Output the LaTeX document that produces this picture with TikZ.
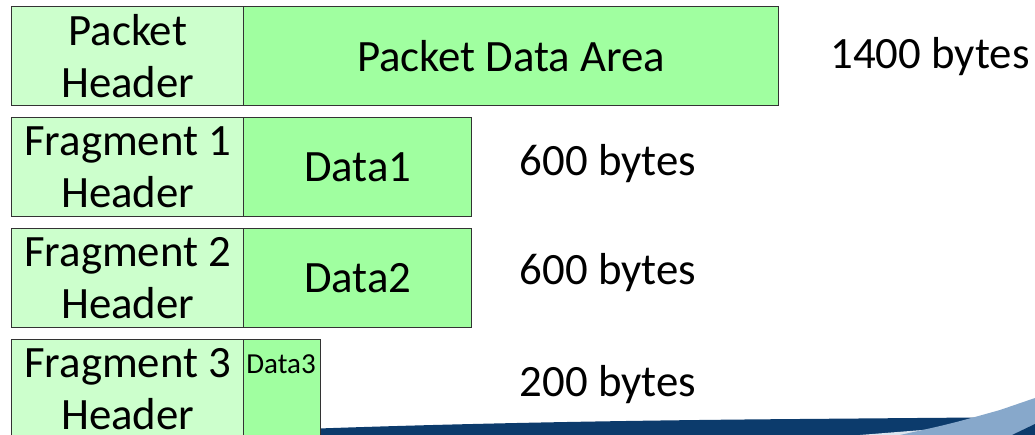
\documentclass[tikz,border=0pt]{standalone}
\usepackage{fontspec}
\setmainfont{Carlito}
\usepackage{tikz}

\definecolor{hdrgreen}{HTML}{CCFFCC}
\definecolor{datgreen}{HTML}{A0FFA0}
\definecolor{boxline}{HTML}{333333}
\definecolor{navyband}{HTML}{0C3B6C}
\definecolor{steelband}{HTML}{87A8CB}

\tikzset{
  hdrbox/.style={draw=boxline, line width=0.8pt, fill=hdrgreen, anchor=north west,
    inner sep=0pt, minimum height=1.98cm, minimum width=4.64cm, align=center,
    font=\fontsize{25.5}{29.5}\selectfont},
  datbox/.style={draw=boxline, line width=0.8pt, fill=datgreen, anchor=north west,
    inner sep=0pt, minimum height=1.98cm, align=center,
    font=\fontsize{25.5}{29.5}\selectfont},
  sizelbl/.style={inner sep=0pt, font=\fontsize{25.5}{29.5}\selectfont}
}

\begin{document}
\begin{tikzpicture}[x=0.02cm, y=-0.02cm]

	\clip (0, 0) rectangle (1035, 435);
	\fill[white] (0, 0) rectangle (1035, 435);

	% Slide background band
	\fill[navyband] (160, 435) .. controls (350, 426) and (550, 421) .. (800, 419)
		-- (1035, 417) -- (1035, 435) -- cycle;
	\fill[white!70!steelband] (860, 435) -- (960, 427) -- (1035, 424) -- (1035, 435) -- cycle;
	\fill[steelband] (900, 435) .. controls (950, 424) .. (1000, 410) -- (1035, 398)
		-- (1035, 425) -- (1012, 435) -- cycle;
	\fill[navyband] (1012, 435) -- (1035, 424) -- (1035, 435) -- cycle;

	% Original packet
	\node[hdrbox] (pkthdr) at (11, 6) {Packet\\Header};
	\node[datbox, minimum width=10.70cm] (pktdata) at (243, 6) {Packet Data Area};
	\node[sizelbl] (pktsize) at (930, 57) {1400 bytes};

	% Fragment 1
	\node[hdrbox] (frag1hdr) at (11, 117) {Fragment 1\\Header};
	\node[datbox, minimum width=4.56cm] (frag1data) at (243, 117) {Data1};
	\node[sizelbl] (frag1size) at (608, 164) {600 bytes};

	% Fragment 2
	\node[hdrbox] (frag2hdr) at (11, 228) {Fragment 2\\Header};
	\node[datbox, minimum width=4.56cm] (frag2data) at (243, 228) {Data2};
	\node[sizelbl] (frag2size) at (608, 273) {600 bytes};

	% Fragment 3
	\node[hdrbox] (frag3hdr) at (11, 339) {Fragment 3\\Header};
	\node[datbox, minimum width=1.54cm, minimum height=2.2cm] (frag3data) at (243, 339) {};
	\node[inner sep=0pt, font=\fontsize{16.5}{18}\selectfont] (frag3txt) at (281, 364) {Data3};
	\node[sizelbl] (frag3size) at (608, 385) {200 bytes};

\end{tikzpicture}
\end{document}
